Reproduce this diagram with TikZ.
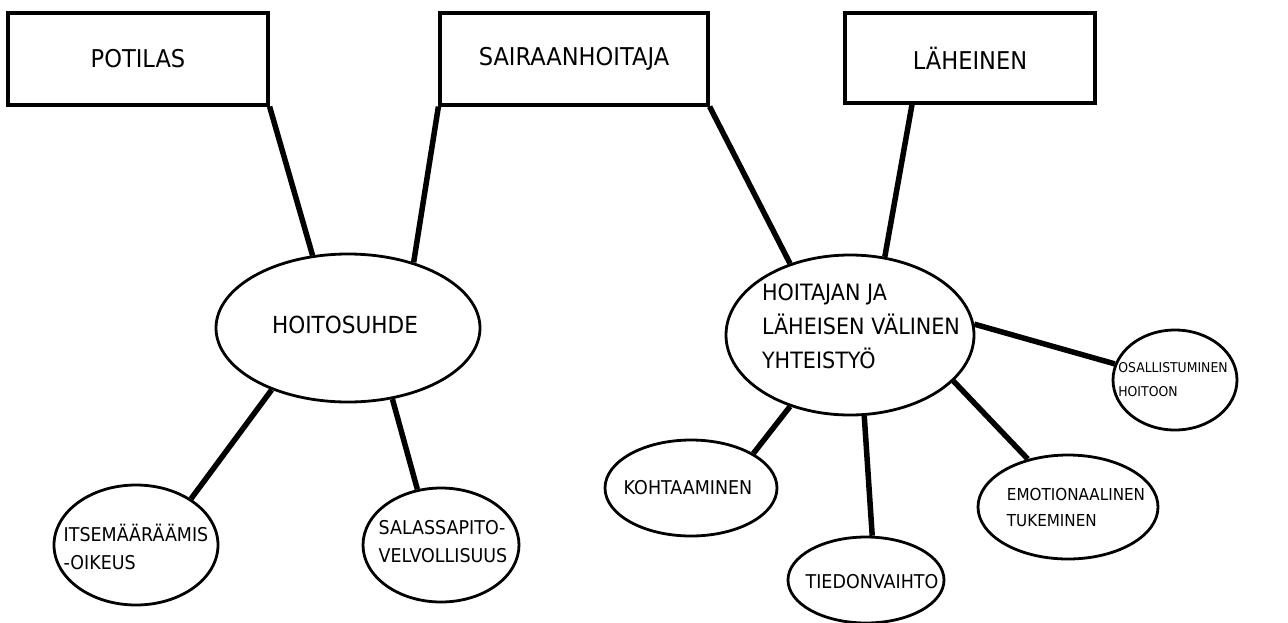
\documentclass[tikz,border=0pt]{standalone}
\usepackage{fontspec}
\setmainfont[FakeStretch=0.92]{DejaVu Sans}
\usetikzlibrary{shapes.geometric}
\begin{document}
\begin{tikzpicture}[x=1pt,y=-1pt,
  box/.style={draw, line width=3.2pt, inner sep=0pt, font=\fontsize{24.5}{28}\selectfont},
  oval/.style={draw, ellipse, line width=2.8pt, inner sep=0pt},
  txt/.style={align=left, inner sep=0pt},
  mid/.style={font=\fontsize{23.5}{28}\selectfont},
  big/.style={font=\fontsize{22.5}{34}\selectfont},
  small/.style={font=\fontsize{19}{28}\selectfont},
  link/.style={line width=5.5pt}]
\useasboundingbox (0,0) rectangle (1288,622);
% boxes
\node[box, minimum width=260pt, minimum height=92pt] (potilas) at (138,59) {POTILAS};
\node[box, minimum width=268pt, minimum height=92pt] (sairaan) at (574,59) {SAIRAANHOITAJA};
\node[box, minimum width=250pt, minimum height=90pt] (laheinen) at (970,58) {LÄHEINEN};
% ellipses
\node[oval, minimum width=264pt, minimum height=148pt,
  label={[txt, mid, xshift=-3pt, yshift=3pt]center:HOITOSUHDE}] (hoito) at (348,328) {};
\node[oval, minimum width=248pt, minimum height=160pt,
  label={[txt, big, xshift=11pt, yshift=9pt]center:HOITAJAN JA\\LÄHEISEN VÄLINEN\\YHTEISTYÖ}] (yht) at (850,335) {};
\node[oval, minimum width=164pt, minimum height=120pt,
  label={[txt, small, yshift=-2pt]center:ITSEMÄÄRÄÄMIS\\-OIKEUS}] (itse) at (136,545) {};
\node[oval, minimum width=156pt, minimum height=114pt,
  label={[txt, small, yshift=3pt, xshift=2pt]center:SALASSAPITO-\\VELVOLLISUUS}] (sala) at (441,545) {};
\node[oval, minimum width=124pt, minimum height=100pt,
  label={[txt, font=\fontsize{13.5}{24}\selectfont, xshift=-2pt]center:OSALLISTUMINEN\\HOITOON}] (osall) at (1175,380) {};
\node[oval, minimum width=172pt, minimum height=96pt,
  label={[txt, small, xshift=-3pt]center:KOHTAAMINEN}] (kohtaa) at (691,488) {};
\node[oval, minimum width=156pt, minimum height=86pt,
  label={[txt, small, xshift=6pt, yshift=-2pt]center:TIEDONVAIHTO}] (tiedon) at (866,580) {};
\node[oval, minimum width=180pt, minimum height=104pt,
  label={[txt, font=\fontsize{16.5}{26}\selectfont, xshift=8pt]center:EMOTIONAALINEN\\TUKEMINEN}] (emot) at (1068,507) {};
% connectors
\coordinate (lh) at ([xshift=-58pt]laheinen.south);
\draw[link] (potilas.south east) -- (hoito.116);
\draw[link] (sairaan.south west) -- (hoito.45);
\draw[link] (sairaan.south east) -- (yht.130);
\draw[link] (lh) -- (yht.66);
\draw[link] (hoito.219) -- (itse.40);
\draw[link] (hoito.302) -- (sala.113);
\draw[link] (yht.5) -- (osall.165);
\draw[link] (yht.230) -- (kohtaa.29);
\draw[link] (yht.280) -- (tiedon.82);
\draw[link] (yht.336) -- (emot.130);
\end{tikzpicture}
\end{document}
